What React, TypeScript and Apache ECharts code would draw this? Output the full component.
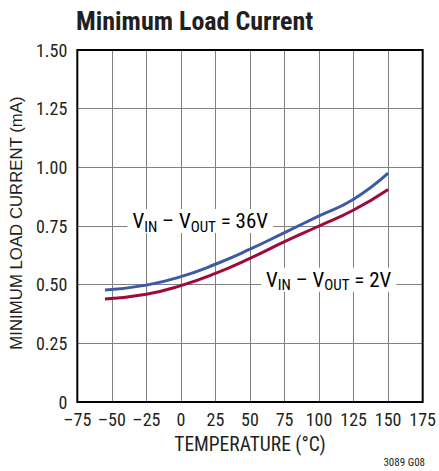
import React, { useEffect, useRef } from "react";
import * as echarts from "echarts";

const temperatures = [-55, -25, 0, 25, 50, 75, 100, 125, 150];
const current36V = [0.477, 0.498, 0.534, 0.587, 0.651, 0.722, 0.793, 0.864, 0.975];
const current2V = [0.439, 0.459, 0.496, 0.548, 0.612, 0.683, 0.75, 0.818, 0.906];
const xTicks = [-75, -50, -25, 0, 25, 50, 75, 100, 125, 150, 175];
const yTicks = [0, 0.25, 0.5, 0.75, 1.0, 1.25, 1.5];
const label36Anchor = [14, 0.75];
const label2Anchor = [107, 0.5];

const FONT = "'Liberation Sans Narrow', 'Roboto Condensed', 'Arial Narrow', sans-serif";
const WIDE = "'Liberation Sans', Arial, sans-serif";
const BLUE = "#3d5aa8";
const RED = "#9e0a3c";

export default function App() {
  const ref = useRef<HTMLDivElement>(null);
  useEffect(() => {
    if (!ref.current) return;
    const chart = echarts.init(ref.current, undefined, { renderer: "svg" });
    const pair = (t: number, v: number) => [t, v];
    chart.setOption({
      animation: false,
      backgroundColor: "#ffffff",
      title: {
        text: "Minimum Load Current",
        left: 71,
        top: 3,
        textStyle: { fontFamily: FONT, fontWeight: "bold", fontSize: 26, color: "#231f20" },
      },
      grid: {
        left: 74,
        right: 14,
        top: 50,
        bottom: 69,
        show: true,
        borderColor: "#000",
        borderWidth: 2,
        backgroundColor: "transparent",
        z: 3,
      },
      xAxis: {
        type: "value",
        min: xTicks[0],
        max: xTicks[xTicks.length - 1],
        interval: 25,
        name: "TEMPERATURE (°C)",
        nameLocation: "middle",
        nameGap: 32,
        nameTextStyle: { fontFamily: FONT, fontSize: 19.5, color: "#231f20" },
        axisLine: { show: false },
        axisTick: { show: false },
        axisLabel: {
          fontFamily: FONT,
          fontSize: 18,
          lineHeight: 16,
          color: "#231f20",
          margin: 9,
          formatter: (v: number) => String(v).replace("-", "\u2013"),
        },
        splitLine: { show: true, lineStyle: { color: "#808080", width: 1 } },
      },
      yAxis: {
        type: "value",
        min: yTicks[0],
        max: yTicks[yTicks.length - 1],
        interval: 0.25,
        name: "MINIMUM LOAD CURRENT (mA)",
        nameLocation: "middle",
        nameGap: 52,
        nameTextStyle: { fontFamily: WIDE, fontSize: 16.8, color: "#231f20", padding: [0, 0, 0, 6] },
        axisLine: { show: false },
        axisTick: { show: false },
        axisLabel: {
          fontFamily: FONT,
          fontSize: 18,
          lineHeight: 15,
          color: "#231f20",
          margin: 10,
          formatter: (v: number) => (v === 0 ? "0" : v.toFixed(2)),
        },
        splitLine: { show: true, lineStyle: { color: "#808080", width: 1 } },
      },
      series: [
        {
          type: "line",
          name: "36V",
          data: temperatures.map((t, i) => pair(t, current36V[i])),
          smooth: true,
          symbol: "none",
          lineStyle: { color: BLUE, width: 3 },
          z: 5,
        },
        {
          type: "line",
          name: "2V",
          data: temperatures.map((t, i) => pair(t, current2V[i])),
          smooth: true,
          symbol: "none",
          lineStyle: { color: RED, width: 3 },
          z: 5,
        },
      ],
    });

    const p1 = chart.convertToPixel({ gridIndex: 0 }, label36Anchor) as number[];
    const p2 = chart.convertToPixel({ gridIndex: 0 }, label2Anchor) as number[];
    const rich = {
      a: { fontFamily: FONT, fontSize: 21, lineHeight: 24, color: "#231f20" },
      b: { fontFamily: FONT, fontSize: 15, lineHeight: 15, color: "#231f20", padding: [11, 0, 0, 0] },
    };
    const mk = (p: number[], v: string) => ({
      type: "text",
      x: p[0],
      y: p[1] - 5,
      z: 10,
      style: {
        text: `{a|V}{b|IN}{a| \u2013 V}{b|OUT}{a| = ${v}}`,
        rich,
        align: "center",
        verticalAlign: "middle",
        backgroundColor: "#ffffff",
        padding: [0, 5, 0, 5],
      },
    });
    chart.setOption({
      graphic: [
        mk(p1, "36V"),
        mk(p2, "2V"),
        {
          type: "text",
          right: 14,
          top: 457,
          style: { text: "3089 G08", fontFamily: FONT, fontSize: 11, fill: "#231f20" },
        },
      ],
    });
    return () => chart.dispose();
  }, []);
  return <div ref={ref} style={{ position: "fixed", left: 0, top: 0, width: 439, height: 471 }} />;
}
